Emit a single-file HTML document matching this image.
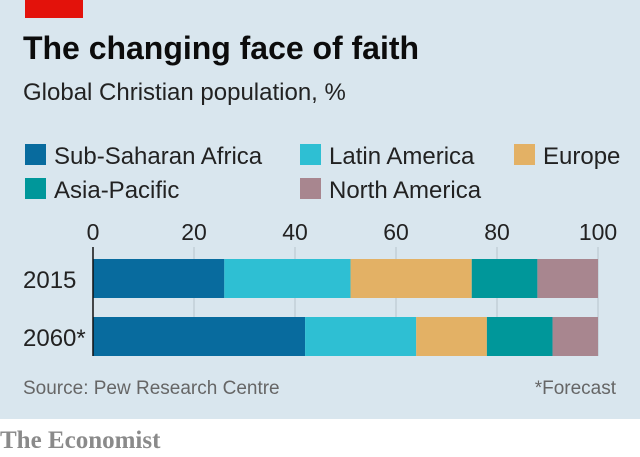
<!DOCTYPE html>
<html><head><meta charset="utf-8"><style>
body{margin:0;width:640px;height:457px;background:#fff;overflow:hidden;font-family:"Liberation Sans",sans-serif}
#bg{position:absolute;left:0;top:0;width:640px;height:419px;background:#d9e6ee}
</style></head><body>
<div id="bg"></div>
<svg width="640" height="457" style="position:absolute;left:0;top:0" id="svg">
<rect x="25" y="0" width="58" height="18" fill="#e3120b"/>
<text x="23" y="59" font-size="32" font-weight="bold" fill="#0c0c0c" textLength="396">The changing face of faith</text>
<text x="23" y="100" font-size="24" fill="#222">Global Christian population, %</text>
<g id="legend"></g>
<g id="grid"></g><g id="bars"></g>
<text x="23" y="394" font-size="19" fill="#666">Source: Pew Research Centre</text>
<text x="616" y="394" font-size="19" fill="#666" text-anchor="end">*Forecast</text>
<text x="0" y="448" font-size="25" font-weight="bold" fill="#8a8a8a" font-family="Liberation Serif,serif">The Economist</text>
</svg>
<script>
const categories=["2015","2060*"];
const seriesNames=["Sub-Saharan Africa","Latin America","Europe","Asia-Pacific","North America"];
const africa=[26,42];
const latin=[25,22];
const europe=[24,14];
const asia=[13,13];
const northAmerica=[12,9];
const ticks=[0,20,40,60,80,100];
const colors=["#086b9e","#2ebfd3","#e3b165","#00979a","#a8868f"];
const series=[africa,latin,europe,asia,northAmerica];
const NS="http://www.w3.org/2000/svg";
const x=v=>93+v*5.05;
const rowY=[259,317],bh=39;
function mk(t,a,p){const e=document.createElementNS(NS,t);for(const k in a)e.setAttribute(k,a[k]);p.appendChild(e);return e;}
const grid=document.getElementById('grid'),bars=document.getElementById('bars'),leg=document.getElementById('legend');
ticks.forEach(t=>{
 if(t>0){const l=mk('line',{x1:x(t),x2:x(t),y1:247,y2:356,stroke:'#b8c4cc','stroke-width':1},grid);
 
 }
 const tx=mk('text',{x:x(t),y:240,'font-size':23,fill:'#222','text-anchor':'middle'},grid);tx.textContent=t;
 
 
});
categories.forEach((c,i)=>{
 let acc=0;
 series.forEach((s,j)=>{
  const r=mk('rect',{x:x(acc),y:rowY[i],width:x(acc+s[i])-x(acc),height:bh,fill:colors[j]},bars);
  
  
  acc+=s[i];
 });
 const t=mk('text',{x:23,y:rowY[i]+29,'font-size':24,fill:'#222'},bars);t.textContent=c;
 
 
});
const ax=mk('line',{x1:93,x2:93,y1:247,y2:356,stroke:'#111','stroke-width':1.5},bars);


const lp=[[25,164],[300,164],[514,164],[25,198],[300,198]];
seriesNames.forEach((n,j)=>{
 const g=mk('g',{},leg);
 
 
 mk('rect',{x:lp[j][0],y:lp[j][1]-20,width:21,height:21,fill:colors[j]},g);
 const t=mk('text',{x:lp[j][0]+29,y:lp[j][1],'font-size':24,fill:'#222'},g);t.textContent=n;
});
</script>
</body></html>
